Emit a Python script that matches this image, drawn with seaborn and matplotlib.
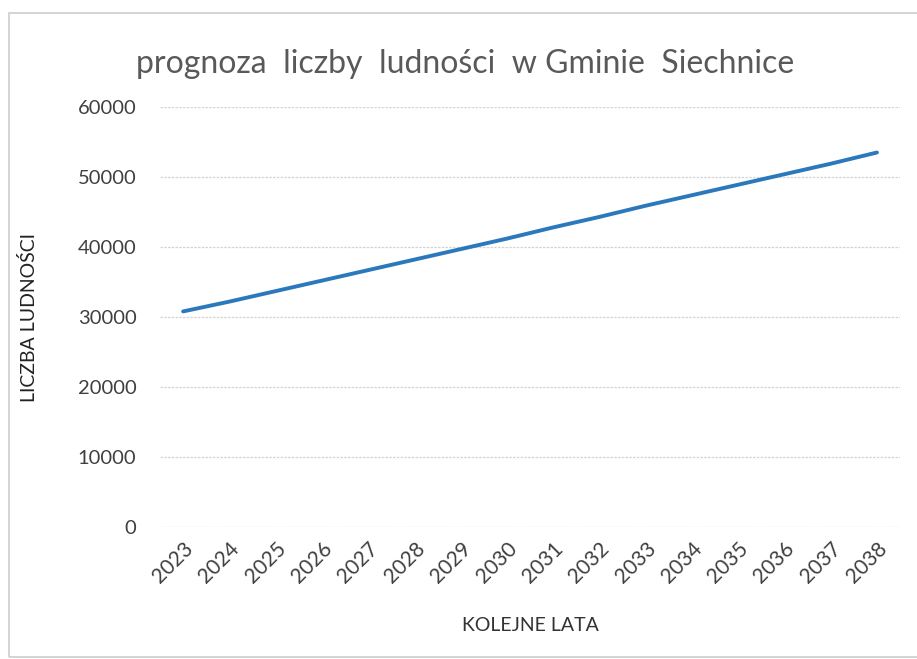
import pandas as pd
import matplotlib.pyplot as plt
import seaborn as sns
from matplotlib.patches import Rectangle

years = list(range(2023, 2039))
ludnosc = [30800, 32200, 33700, 35200, 36700, 38200, 39700, 41200,
           42800, 44300, 45900, 47400, 48900, 50400, 51900, 53500]
y_ticks = [0, 10000, 20000, 30000, 40000, 50000, 60000]

df = pd.DataFrame({'rok': years, 'ludnosc': ludnosc})

sns.set_style('white')
plt.rcParams['font.family'] = ['Lato', 'DejaVu Sans']

fig = plt.figure(figsize=(9.17, 6.59), dpi=100)
ax = fig.add_axes([0.1745, 0.2003, 0.807, 0.6373])

sns.lineplot(data=df, x='rok', y='ludnosc', color='#2b78bd', linewidth=2.8, ax=ax)

ax.set_xlim(2022.5, 2038.5)
ax.set_ylim(0, 60000)
ax.set_yticks(y_ticks)
ax.set_yticklabels([str(v) for v in y_ticks])
ax.set_xticks(years)
ax.set_xticklabels([str(y) for y in years], rotation=45, ha='right',
                   rotation_mode='anchor')
ax.tick_params(axis='y', length=0, labelsize=14.5, colors='#404040', pad=17)
ax.tick_params(axis='x', length=0, labelsize=15, colors='#404040', pad=8)
ax.grid(axis='y', color='#d4d4d4', linewidth=0.9, linestyle=(0, (2, 1)))
ax.grid(axis='x', visible=False)
for s in ax.spines.values():
    s.set_visible(False)

ax.set_xlabel('KOLEJNE LATA', fontsize=14, color='#333333', labelpad=22)
ax.set_ylabel('LICZBA LUDNOŚCI', fontsize=14, color='#222222')
ax.yaxis.set_label_coords(-0.165, 0.5)

fig.suptitle('prognoza  liczby  ludności  w Gminie  Siechnice', x=0.507, y=0.925,
             fontsize=23, color='#595959')

# light frame of the chart box
fig.patches.append(Rectangle((9 / 917, 0.003), 1.2, 0.978, transform=fig.transFigure,
                             fill=False, edgecolor='#c8d0d0', linewidth=1.2))

plt.savefig('out.png', dpi=100)
